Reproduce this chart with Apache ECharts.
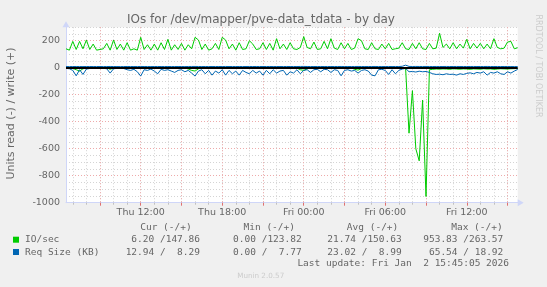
<!DOCTYPE html>
<html><head><meta charset="utf-8">
<script src="https://cdn.jsdelivr.net/npm/echarts@6/dist/echarts.min.js"></script>
<style>html,body{margin:0;padding:0;background:#f0f0f0;}#c{width:547px;height:287px;}</style>
</head><body><div id="c"></div>
<script>
// ---- data (15-minute samples, Thu 06:30 -> Fri 15:45) ----
const ioWrite = [
140,130,195,135,195,140,205,135,175,130,
135,140,180,130,205,135,175,130,185,130,
140,130,225,135,170,130,175,130,185,135,
210,130,170,135,180,130,170,140,225,205,
135,175,130,140,180,135,225,205,140,175,
130,185,135,140,200,175,135,140,185,135,
180,130,215,140,175,135,185,140,135,150,
230,150,140,190,135,140,195,140,215,145,
135,185,140,180,135,145,215,200,140,135,
185,140,135,175,140,180,135,140,145,185,
140,135,180,140,185,140,135,180,140,145,
255,150,175,140,185,140,175,145,210,140,
180,145,180,140,175,140,215,150,140,145,
190,195,140,148];
const ioRead = [
2,3,5,15,25,8,2,1,1,2,
1,2,1,12,2,1,1,2,1,3,
2,1,3,2,1,2,1,2,1,2,
1,2,3,2,1,2,10,20,25,8,
2,1,3,2,1,2,3,2,1,2,
1,2,3,1,2,1,2,3,2,1,
2,1,2,3,1,2,1,2,3,15,
20,8,2,1,2,3,1,2,1,2,
1,2,3,1,2,12,18,6,2,1,
2,1,3,2,1,2,1,2,3,2,
5,485,170,600,690,240,954,15,12,10,
11,9,10,12,8,10,11,9,10,12,
9,10,11,8,10,9,12,10,8,9,
10,8,7,6];
const reqRead = [
5,8,20,60,15,50,10,6,5,4,
5,4,8,40,8,5,4,6,15,20,
12,30,62,15,20,10,25,45,12,20,
15,25,35,20,15,30,20,40,62,25,
15,45,20,55,25,40,15,55,20,45,
25,55,20,35,45,20,40,25,55,20,
45,15,40,25,20,55,30,40,15,45,
20,15,35,15,12,30,12,15,35,15,
20,60,20,15,25,20,40,20,15,25,
55,60,15,12,20,50,15,45,20,10,
5,30,28,32,26,30,28,35,45,50,
48,52,45,50,48,55,45,50,42,38,
45,35,40,30,55,35,40,30,45,50,
30,40,25,13];
const reqWrite = [
8.5,8.3,8.8,9.0,8.6,8.4,8.9,8.7,8.5,8.6,
8.8,8.4,8.6,9.1,8.7,8.5,8.3,8.6,8.9,8.8,
8.6,8.5,9.2,8.7,8.6,8.4,8.8,9.0,8.6,8.7,
8.9,8.5,8.7,8.6,8.8,8.4,8.9,9.1,9.3,8.8,
8.6,8.9,8.5,9.0,8.7,8.8,8.6,9.1,8.7,8.9,
8.5,9.0,8.6,8.8,9.1,8.7,8.9,8.6,9.0,8.7,
8.9,8.5,8.8,8.7,8.6,9.0,8.8,8.9,8.6,9.2,
9.4,8.9,8.7,8.8,8.6,8.9,8.7,8.6,9.0,8.7,
8.8,9.1,8.7,8.6,8.8,8.9,9.2,8.8,8.6,8.7,
9.0,9.1,8.6,8.5,8.7,9.0,8.6,8.9,8.8,10.5,
18.9,9.5,9.0,9.3,9.1,8.9,9.2,9.0,8.8,9.1,
9.0,8.9,9.2,8.8,9.0,9.1,8.9,9.0,8.8,8.9,
9.1,8.8,9.0,8.9,9.2,8.8,9.0,8.9,8.7,8.9,
8.6,8.5,8.4,8.3];
const tickLabels = ['Thu 12:00','Thu 18:00','Fri 00:00','Fri 06:00','Fri 12:00'];
const yTickLabels = [200,0,-200,-400,-600,-800,-1000];
const dayNames = ['Thu','Fri'];
const startMinutes = 6*60+30, stepMinutes = 15;
const categories = [];
for (let k = 0; k < ioWrite.length; k++) {
  const m = startMinutes + k*stepMinutes, d = Math.floor(m/1440), hm = m%1440;
  categories.push(dayNames[d]+' '+String(Math.floor(hm/60)).padStart(2,'0')+':'+String(hm%60).padStart(2,'0'));
}
// legend texts
const legendNames = ['IO/sec','Req Size (KB)'];
const legendColors = ['#00CC00','#0066B3'];
const legendHeaders = ['Cur (-/+)','Min (-/+)','Avg (-/+)','Max (-/+)'];
const legendCur = ['6.20 /147.86','12.94 /  8.29'];
const legendMin = ['0.00 /123.82','0.00 /  7.77'];
const legendAvg = ['21.74 /150.63','23.02 /  8.99'];
const legendMax = ['953.83 /263.57','65.54 / 18.92'];
const lastUpdate = 'Last update: Fri Jan  2 15:45:05 2026';

const isHour = v => v.endsWith(':00');
const isMajor = v => isHour(v) && (parseInt(v.slice(4,6),10) % 3 === 0);
const GRID = '#d4d4d4', MGRID = '#eeaaaa';
const FONT = 'DejaVu Sans', MONO = 'DejaVu Sans Mono', FC = '#666666';

const graphics = [];
const T = (x,y,text,opt={}) => graphics.push({type:'text', x, y, rotation: opt.rot||0, silent:true,
  style:{text, fill: opt.fill||FC, font: (opt.size||9.5)+'px "'+(opt.fam||MONO)+'"', align: opt.align||'left', verticalAlign:'middle'}});
T(261,19.5,'IOs for /dev/mapper/pve-data_tdata - by day',{fam:FONT,size:12,align:'center'});
T(11.5,113.5,'Units read (-) / write (+)',{fam:FONT,size:11,align:'center',rot:Math.PI/2});
T(538,66,'RRDTOOL / TOBI OETIKER',{fam:FONT,size:8,align:'center',rot:-Math.PI/2,fill:'#cccccc'});
const colRight = [191.7,295,398.3,502.7], valRight = [200,301.7,401.7,503.3];
legendHeaders.forEach((h,i)=>T(colRight[i],227.3,h,{align:'right'}));
const rowY = [240,252.3];
legendNames.forEach((n,r)=>{
  graphics.push({type:'rect', silent:true, shape:{x:13,y:rowY[r]-3.3,width:6,height:6}, style:{fill:legendColors[r]}});
  T(25,rowY[r],n);
  [legendCur,legendMin,legendAvg,legendMax].forEach((arr,c)=>T(valRight[c],rowY[r],arr[r],{align:'right'}));
});
T(509,263.3,lastUpdate,{align:'right'});
T(260.7,276,'Munin 2.0.57',{fam:FONT,size:7.2,align:'center',fill:'#cccccc'});

const lineSeries = (name, data, color, extra={}) => Object.assign({name, type:'line', data, symbol:'none', showSymbol:false,
  lineStyle:{width:1, color}, itemStyle:{color}, xAxisIndex:0, yAxisIndex:0}, extra);

const chart = echarts.init(document.getElementById('c'), null, {renderer:'canvas'});
chart.setOption({
  backgroundColor:'#f0f0f0',
  animation:false,
  grid:{left:66, right:29.3, top:27.2, bottom:84.3, show:true, backgroundColor:'#ffffff', borderWidth:0},
  xAxis:[
    {type:'category', data:categories, boundaryGap:false, position:'bottom',
     axisLine:{show:true, onZero:false, lineStyle:{color:'#CFD6F8', width:1}, symbol:['none','triangle'], symbolSize:[7,6], symbolOffset:[0,3]},
     axisTick:{show:true, interval:(i,v)=>isHour(v), length:2, lineStyle:{color:'#c0c0c0'}},
     axisLabel:{interval:(i,v)=>tickLabels.includes(v), color:FC, fontFamily:FONT, fontSize:9.5, margin:5},
     splitLine:{show:true, interval:(i,v)=>isHour(v), lineStyle:{color:GRID, type:[1,2], width:1}}},
    {type:'category', data:categories, boundaryGap:false, position:'bottom',
     axisLine:{show:false, onZero:false}, axisLabel:{show:false},
     axisTick:{show:true, interval:(i,v)=>isMajor(v), length:3, lineStyle:{color:'#e07070'}},
     splitLine:{show:true, interval:(i,v)=>isMajor(v), lineStyle:{color:MGRID, type:[1,2], width:1}}}
  ],
  yAxis:[
    {type:'value', min:-1000, max:300, interval:50,
     axisLine:{show:true, onZero:false, lineStyle:{color:'#CFD6F8'}, symbol:['none','triangle'], symbolSize:[7,6], symbolOffset:[0,3]},
     axisTick:{show:false},
     axisLabel:{color:FC, fontFamily:FONT, fontSize:9.5, margin:6, formatter:v=>yTickLabels.includes(v)?String(v):''},
     splitLine:{show:true, showMinLine:false, lineStyle:{color:GRID, type:[1,2]}}},
    {type:'value', min:-1000, max:300, interval:200, position:'left',
     axisLine:{show:false}, axisTick:{show:false}, axisLabel:{show:false},
     splitLine:{show:true, showMinLine:false, showMaxLine:false, lineStyle:{color:MGRID, type:[1,2]}}}
  ],
  series:[
    lineSeries('IO/sec read', ioRead.map(v=>-v), '#00CC00'),
    lineSeries('IO/sec write', ioWrite, '#00CC00'),
    lineSeries('Req Size read', reqRead.map(v=>-v), '#0066B3'),
    lineSeries('Req Size write', reqWrite, '#0066B3', {
      markLine:{silent:true, symbol:'none', label:{show:false}, animation:false,
        lineStyle:{color:'#000000', width:2, type:'solid'}, data:[{yAxis:0}]}})
  ],
  graphic:graphics
});
</script></body></html>
